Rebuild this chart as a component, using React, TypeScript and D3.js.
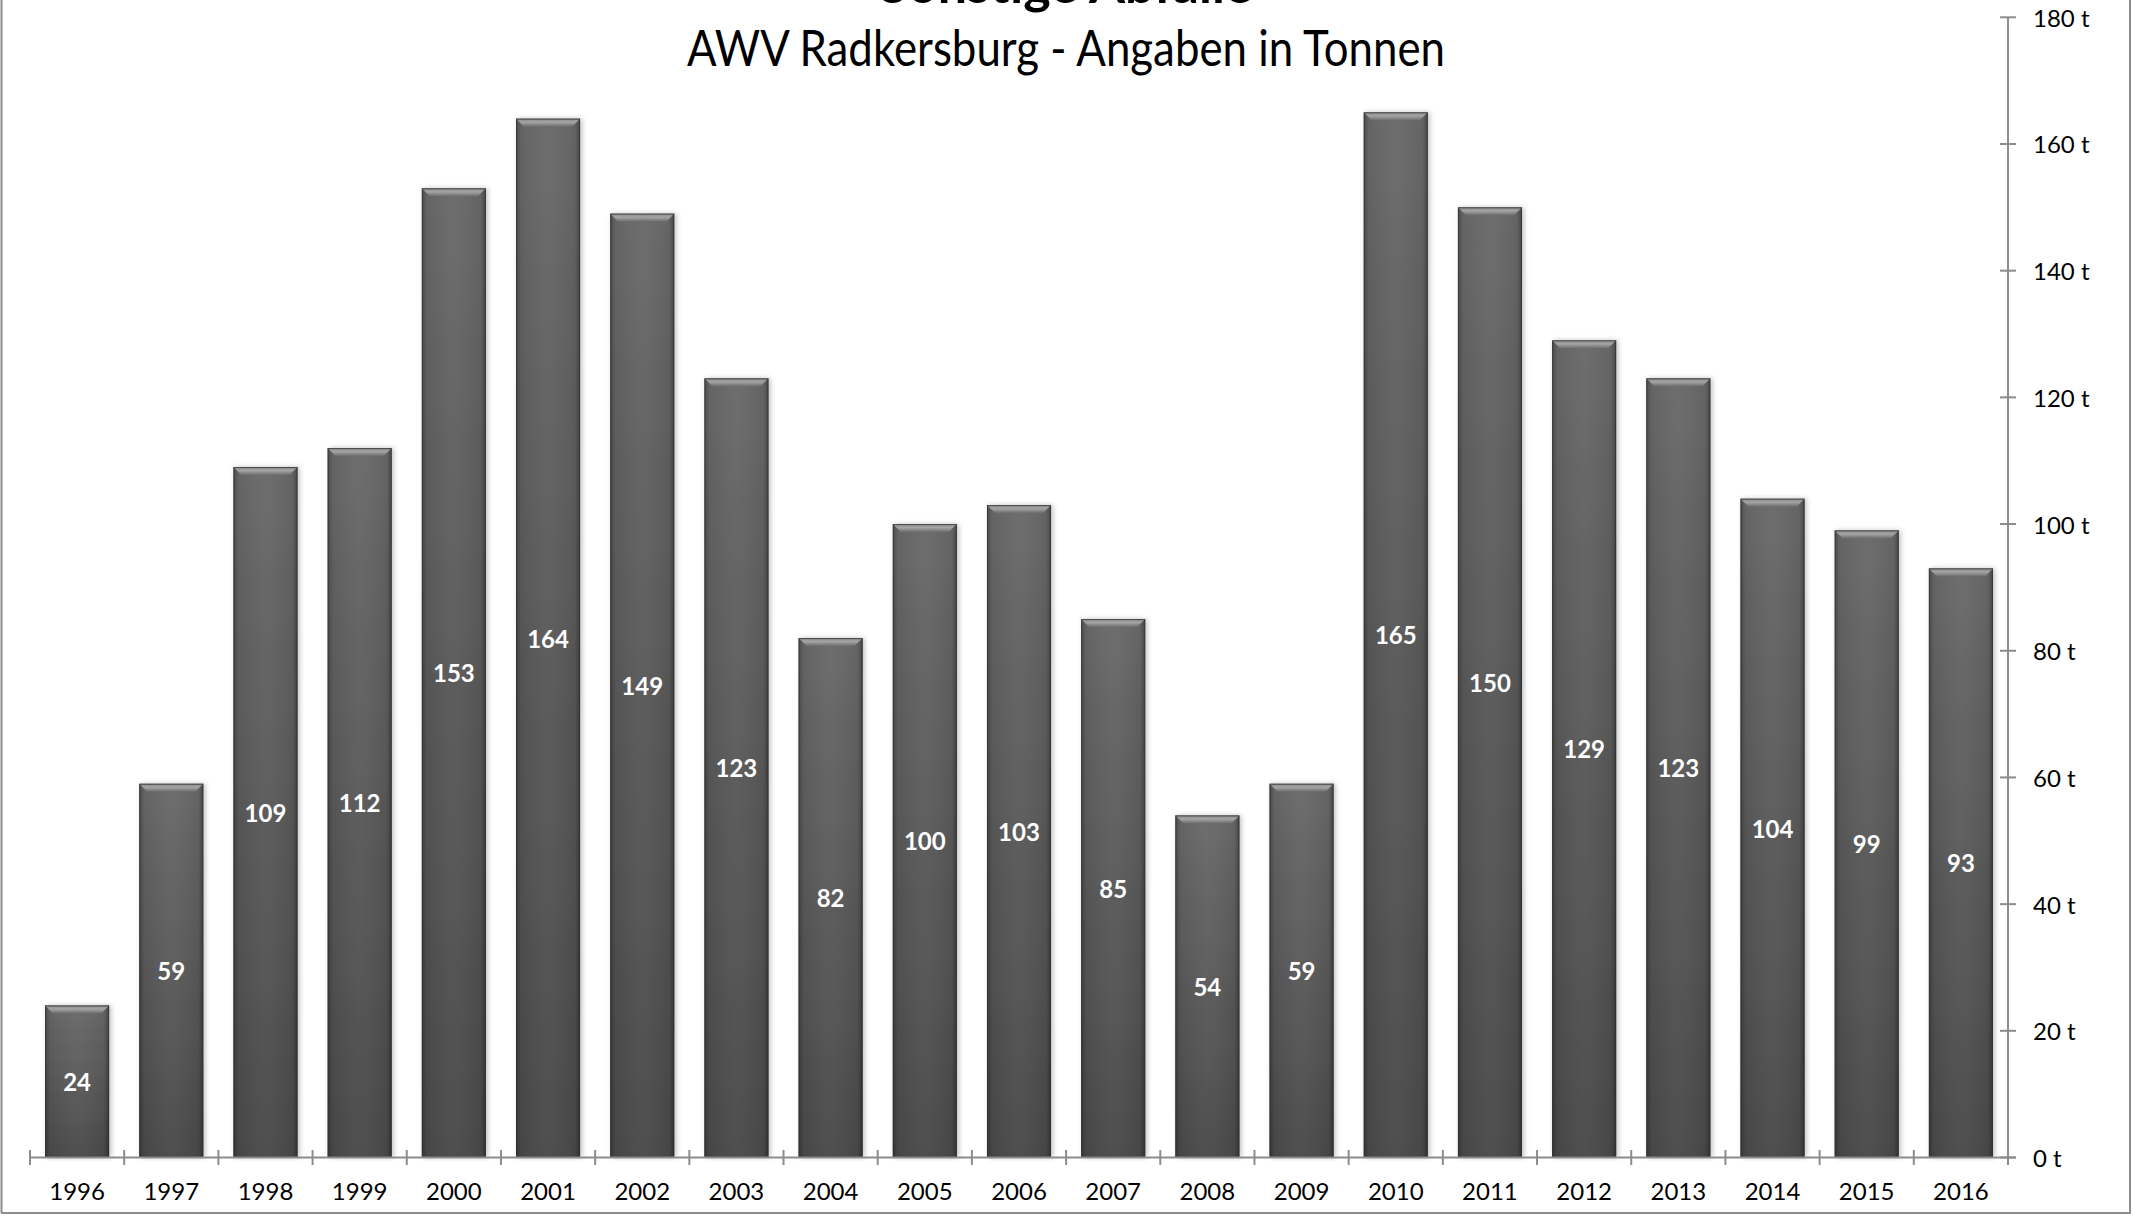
import React from 'react';
import * as d3 from 'd3';

const years = ['1996', '1997', '1998', '1999', '2000', '2001', '2002', '2003', '2004', '2005', '2006',
  '2007', '2008', '2009', '2010', '2011', '2012', '2013', '2014', '2015', '2016'];
const tonnes = [24, 59, 109, 112, 153, 164, 149, 123, 82, 100, 103, 85, 54, 59, 165, 150, 129, 123, 104, 99, 93];
const yTicks = [0, 20, 40, 60, 80, 100, 120, 140, 160, 180];
const titleLines = ['Sonstige Abfälle', 'AWV Radkersburg - Angaben in Tonnen'];

const W = 2133, H = 1216;
const font = 'Lato, "Open Sans", sans-serif';

export default function App() {
  const x = d3.scaleBand<string>()
    .domain(years)
    .range([30, 2008])
    .paddingInner(0.32)
    .paddingOuter(0.16);
  const y = d3.scaleLinear().domain([0, 180]).range([1157.5, 17.3]);
  const axisX = x.range()[1];
  const step = x.step();
  const bw = x.bandwidth();
  const bevel = 8;

  return (
    <div style={{ position: 'absolute', left: 0, top: 0 }}>
      <svg width={W} height={H} style={{ display: 'block', background: '#fff' }}>
        <defs>
          <linearGradient id="body" x1="0" y1="0" x2="0" y2="1">
            <stop offset="0" stopColor="#696969" />
            <stop offset="1" stopColor="#4a4a4a" />
          </linearGradient>
          <linearGradient id="sides" x1="0" y1="0" x2="1" y2="0">
            <stop offset="0" stopColor="#000" stopOpacity="0.28" />
            <stop offset="0.08" stopColor="#000" stopOpacity="0.05" />
            <stop offset="0.5" stopColor="#fff" stopOpacity="0.03" />
            <stop offset="0.92" stopColor="#000" stopOpacity="0.05" />
            <stop offset="1" stopColor="#000" stopOpacity="0.32" />
          </linearGradient>
          <linearGradient id="bevel" x1="0" y1="0" x2="0" y2="1">
            <stop offset="0" stopColor="#8a8a8a" />
            <stop offset="0.45" stopColor="#a4a4a4" />
            <stop offset="1" stopColor="#6c6c6c" />
          </linearGradient>
          <filter id="shadow" x="-20%" y="-5%" width="140%" height="110%">
            <feDropShadow dx="2" dy="0" stdDeviation="2.5" floodColor="#000" floodOpacity="0.25" />
          </filter>
        </defs>

        {/* frame */}
        <line x1={1.5} x2={1.5} y1={0} y2={1213} stroke="#8c8c8c" strokeWidth={2} />
        <line x1={1} x2={2131} y1={1213} y2={1213} stroke="#8c8c8c" strokeWidth={2} />
        <line x1={2130} x2={2130} y1={0} y2={1213} stroke="#8c8c8c" strokeWidth={2} />

        {/* title, first line is cut off at the top as in the original */}
        <text x={1066} y={3} textAnchor="middle" fontFamily={font} fontWeight="bold" fontSize={52}
          fill="#000">{titleLines[0]}</text>
        <text x={1066} y={66} textAnchor="middle" fontFamily={font} fontSize={50} fill="#000"
          textLength={758} lengthAdjust="spacingAndGlyphs">{titleLines[1]}</text>

        {/* bars */}
        {years.map((yr, i) => {
          const x0 = x(yr)!;
          const y0 = y(tonnes[i]);
          const h = y(0) - y0;
          return (
            <g key={yr}>
              <rect x={x0} y={y0} width={bw} height={h} fill="url(#body)" filter="url(#shadow)" />
              <rect x={x0} y={y0} width={bw} height={h} fill="url(#sides)" />
              <path d={`M${x0},${y0}L${x0 + bw},${y0}L${x0 + bw - bevel},${y0 + bevel}L${x0 + bevel},${y0 + bevel}Z`}
                fill="url(#bevel)" />
              <rect x={x0 + 0.5} y={y0 + 0.5} width={bw - 1} height={h - 1} fill="none" stroke="#2e2e2e"
                strokeOpacity={0.7} strokeWidth={1} />
              <text x={x0 + bw / 2} y={(y0 + y(0)) / 2} textAnchor="middle" dominantBaseline="central"
                fontFamily={font} fontWeight="bold" fontSize={24} fill="#fff">{tonnes[i]}</text>
            </g>
          );
        })}

        {/* x axis */}
        <line x1={x.range()[0]} x2={axisX + 8} y1={y(0)} y2={y(0)} stroke="#8c8c8c" strokeWidth={2} />
        {d3.range(years.length + 1).map(i => {
          const tx = x.range()[0] + i * step;
          return <line key={i} x1={tx} x2={tx} y1={1150} y2={1165} stroke="#8c8c8c" strokeWidth={2} />;
        })}
        {years.map(yr => (
          <text key={yr} x={x(yr)! + bw / 2} y={1190} textAnchor="middle" dominantBaseline="central"
            fontFamily={font} fontSize={24} fill="#000">{yr}</text>
        ))}

        {/* y axis */}
        <line x1={axisX} x2={axisX} y1={y(180)} y2={y(0)} stroke="#8c8c8c" strokeWidth={2} />
        {yTicks.map(t => (
          <g key={t} transform={`translate(0,${y(t)})`}>
            <line x1={axisX - 8} x2={axisX + 8} y1={0} y2={0} stroke="#8c8c8c" strokeWidth={2} />
            <text x={2033} y={0} dominantBaseline="central" fontFamily={font} fontSize={24} fill="#000">
              {`${t} t`}
            </text>
          </g>
        ))}
      </svg>
    </div>
  );
}
